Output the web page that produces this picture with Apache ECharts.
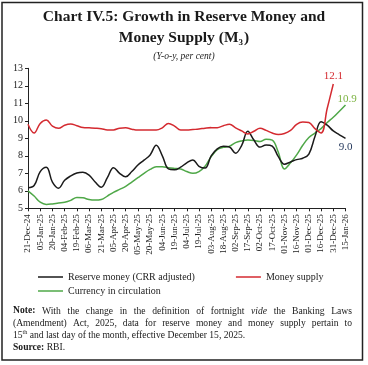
<!DOCTYPE html>
<html>
<head>
<meta charset="utf-8">
<script src="https://cdn.jsdelivr.net/npm/echarts@6/dist/echarts.min.js"></script>
<style>
html,body{margin:0;padding:0;background:#fff;}
#c{width:368px;height:365px;}
</style>
</head>
<body>
<div id="c"></div>
<script>
// ---- data (half-fortnight steps; labels on every other step) ----
const tickLabels = ['21-Dec-24','05-Jan-25','20-Jan-25','04-Feb-25','19-Feb-25','06-Mar-25','21-Mar-25','05-Apr-25','20-Apr-25','05-May-25','20-May-25','04-Jun-25','19-Jun-25','04-Jul-25','19-Jul-25','03-Aug-25','18-Aug-25','02-Sep-25','17-Sep-25','02-Oct-25','17-Oct-25','01-Nov-25','16-Nov-25','01-Dec-25','16-Dec-25','31-Dec-25','15-Jan-26'];
const seriesNames = ['Reserve money (CRR adjusted)', 'Money supply', 'Currency in circulation'];
const reserveMoney = [6.18,6.3,7.1,7.35,6.5,6.15,6.6,6.85,7.02,7.06,6.9,6.5,6.2,6.75,7.32,7.0,6.8,7.1,7.47,7.75,8.05,8.6,8.0,7.25,7.2,7.35,7.6,7.76,7.4,7.3,8.0,8.4,8.55,8.5,8.15,8.6,9.4,8.9,8.5,8.62,8.55,7.95,7.52,7.65,7.78,7.86,8.1,9.1,9.95,9.75,9.42,9.2,9.0];
const moneySupply = [9.8,9.3,9.85,10.05,9.7,9.57,9.75,9.82,9.72,9.62,9.6,9.58,9.55,9.48,9.48,9.58,9.6,9.52,9.47,9.47,9.47,9.47,9.6,9.85,9.7,9.47,9.47,9.5,9.53,9.58,9.61,9.61,9.72,9.8,9.6,9.42,9.25,9.4,9.57,9.45,9.3,9.22,9.27,9.45,9.8,9.93,9.9,9.55,9.3,10.7,12.1];
const currency = [6.0,5.7,5.35,5.22,5.25,5.3,5.34,5.45,5.62,5.6,5.5,5.47,5.5,5.7,5.91,6.08,6.25,6.5,6.75,7.0,7.22,7.38,7.38,7.32,7.28,7.25,7.1,7.0,7.1,7.4,7.95,8.35,8.48,8.55,8.75,8.85,8.9,8.88,8.82,8.95,8.9,8.2,7.25,7.6,8.05,8.6,9.05,9.3,9.55,9.9,10.2,10.55,10.9];

const categories = [];
for (let i = 0; i < tickLabels.length; i++) {
  categories.push(tickLabels[i]);
  if (i < tickLabels.length - 1) categories.push('');
}

const SERIF = '"Liberation Serif", "DejaVu Serif", serif';
const colBlack = '#1a1a1a', colRed = '#d42a30', colGreen = '#4fa848';

function endLabel(color, offset) {
  return {show: true, formatter: (p) => Number(p.value).toFixed(1), color: color, fontFamily: SERIF, fontSize: 11,
          align: 'center', verticalAlign: 'middle', distance: 0, offset: offset};
}

// ---- justified note lines ----
const cv = document.createElement('canvas').getContext('2d');
const NOTE_SIZE = 9.6;
function measure(t, w, s) {
  cv.font = (s || 'normal') + ' ' + (w || 'normal') + ' ' + NOTE_SIZE + 'px "Liberation Serif"';
  return cv.measureText(t).width;
}
function justify(words, y, x0, x1) {
  const widths = words.map(w => measure(w[0], w[1] === 'b' ? 'bold' : 'normal', w[1] === 'i' ? 'italic' : 'normal'));
  const total = widths.reduce((a, b) => a + b, 0);
  const gap = (x1 - x0 - total) / (words.length - 1);
  let x = x0;
  return words.map((w, i) => {
    const el = {type: 'text', x: x, y: y, style: {text: w[0], fontFamily: SERIF, fontSize: NOTE_SIZE,
      fontWeight: w[1] === 'b' ? 'bold' : 'normal', fontStyle: w[1] === 'i' ? 'italic' : 'normal',
      fill: '#1a1a1a', verticalAlign: 'middle', align: 'left'}};
    x += widths[i] + gap;
    return el;
  });
}
const note1 = [['Note:','b'],['With'],['the'],['change'],['in'],['the'],['definition'],['of'],['fortnight'],['vide','i'],['the'],['Banking'],['Laws']];
const note2 = '(Amendment) Act, 2025, data for reserve money and money supply pertain to'.split(' ').map(w => [w]);

const legendText = {fontFamily: SERIF, fontSize: 10, color: '#222'};

const chart = echarts.init(document.getElementById('c'), null, {renderer: 'canvas'});
chart.setOption({
  animation: false,
  backgroundColor: '#fff',
  grid: {left: 28, right: 22.5, top: 68.3, bottom: 156.7, containLabel: false},
  xAxis: {
    type: 'category', data: categories, boundaryGap: false,
    axisLine: {lineStyle: {color: '#222', width: 1}},
    axisTick: {interval: 1, length: 3, lineStyle: {color: '#222'}},
    axisLabel: {interval: 1, rotate: 90, fontFamily: SERIF, fontSize: 9, color: '#222', margin: 6},
    splitLine: {show: false}
  },
  yAxis: {
    type: 'value', min: 5, max: 13, interval: 1,
    axisLine: {show: true, lineStyle: {color: '#222', width: 1}},
    axisTick: {show: true, length: 3, lineStyle: {color: '#222'}},
    axisLabel: {fontFamily: SERIF, fontSize: 10, color: '#222', margin: 5},
    splitLine: {show: false}
  },
  legend: [
    {data: [seriesNames[0], seriesNames[1]], left: 38, top: 272, padding: 0, itemWidth: 25, itemHeight: 1.5, itemGap: 41, icon: 'rect',
     textStyle: legendText},
    {data: [seriesNames[2]], left: 38, top: 286, padding: 0, itemWidth: 25, itemHeight: 1.5, icon: 'rect',
     textStyle: legendText}
  ],
  series: [
    {name: seriesNames[0], type: 'line', data: reserveMoney, smooth: 0.4, symbol: 'none',
     lineStyle: {color: colBlack, width: 1.5}, itemStyle: {color: colBlack}, z: 3,
     endLabel: endLabel('#1f3358', [0, 9])},
    {name: seriesNames[1], type: 'line', data: moneySupply, smooth: 0.4, symbol: 'none',
     lineStyle: {color: colRed, width: 1.5}, itemStyle: {color: colRed}, z: 4,
     endLabel: endLabel(colRed, [0, -7.5])},
    {name: seriesNames[2], type: 'line', data: currency, smooth: 0.4, symbol: 'none',
     lineStyle: {color: colGreen, width: 1.5}, itemStyle: {color: colGreen}, z: 2,
     endLabel: endLabel('#7cb342', [1.5, -6])}
  ],
  graphic: [
    {type: 'rect', shape: {x: 2, y: 2.5, width: 360.5, height: 357.5}, style: {fill: 'none', stroke: '#222', lineWidth: 1.5}, silent: true},
    {type: 'text', x: 184, y: 17, style: {text: 'Chart IV.5: Growth in Reserve Money and', fontFamily: SERIF, fontSize: 15.5, fontWeight: 'bold', fill: '#1a1a1a', align: 'center', verticalAlign: 'middle'}},
    {type: 'text', x: 184, y: 38, style: {text: 'Money Supply (M{s|3})', fontFamily: SERIF, fontSize: 15.5, fontWeight: 'bold', fill: '#1a1a1a', align: 'center', verticalAlign: 'middle',
      rich: {s: {fontFamily: SERIF, fontSize: 9, fontWeight: 'bold', fill: '#1a1a1a', padding: [9, 1, 0, 0]}}}},
    {type: 'text', x: 184, y: 56.5, style: {text: '(Y-o-y, per cent)', fontFamily: SERIF, fontSize: 9.5, fontStyle: 'italic', fill: '#1a1a1a', align: 'center', verticalAlign: 'middle'}},
    ...justify(note1, 311, 13, 352),
    ...justify(note2, 323.3, 13, 352),
    {type: 'text', x: 13, y: 335.5, style: {text: '{n|15}{sup|th}{n| and last day of the month, effective December 15, 2025.}', verticalAlign: 'middle', align: 'left',
      rich: {n: {fontFamily: SERIF, fontSize: NOTE_SIZE, fill: '#1a1a1a'}, sup: {fontFamily: SERIF, fontSize: 6, fill: '#1a1a1a', padding: [0, 0, 6, 0]}}}},
    {type: 'text', x: 13, y: 347.5, style: {text: '{b|Source:}{n| RBI.}', verticalAlign: 'middle', align: 'left',
      rich: {b: {fontFamily: SERIF, fontSize: NOTE_SIZE, fontWeight: 'bold', fill: '#1a1a1a'}, n: {fontFamily: SERIF, fontSize: NOTE_SIZE, fill: '#1a1a1a'}}}}
  ]
});
</script>
</body>
</html>
